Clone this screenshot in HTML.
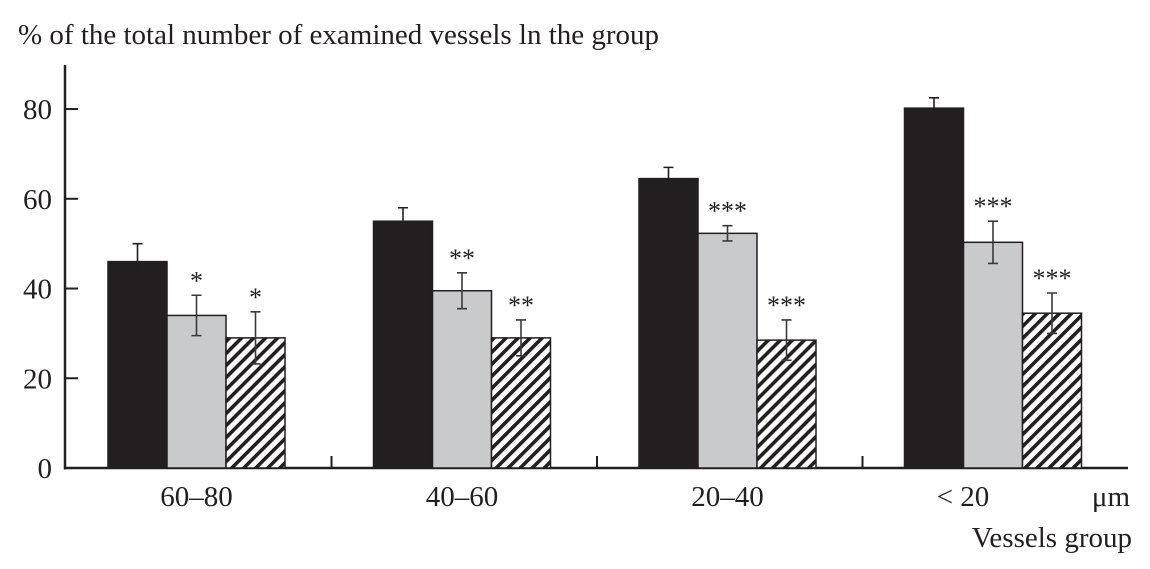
<!DOCTYPE html>
<html><head><meta charset="utf-8"><style>
html,body{margin:0;padding:0;background:#fff;}
svg text{font-family:"Liberation Serif",serif;fill:#231f20;}
</style></head><body>
<svg width="1150" height="564" viewBox="0 0 1150 564" xmlns="http://www.w3.org/2000/svg">
<defs>
<pattern id="hatch" patternUnits="userSpaceOnUse" width="8.5" height="8.5" patternTransform="rotate(45)">
<rect width="8.5" height="8.5" fill="#fff"/><rect x="0" y="0" width="3.6" height="8.5" fill="#231f20"/>
</pattern>
</defs>
<text x="18" y="44" font-size="29">% of the total number of examined vessels ln the group</text>
<g id="axes"></g>
<g id="bars"></g>
<text x="1130" y="506" font-size="29" text-anchor="end">μm</text>
<text x="1132" y="547" font-size="29" text-anchor="end">Vessels group</text>
</svg>
<script>
const categories = ["60\u201380","40\u201360","20\u201340","< 20"];
const seriesBlack = [46, 55, 64.5, 80.2];
const seriesGray = [34, 39.5, 52.3, 50.3];
const seriesHatch = [29, 29, 28.5, 34.5];
const errBlack = [4, 3, 2.5, 2.3];
const errGray = [4.5, 4, 1.7, 4.7];
const errHatch = [5.8, 4, 4.5, 4.5];
const starsGray = ["*","**","***","***"];
const starsHatch = ["*","**","***","***"];
const yTicks = [0,20,40,60,80];

const NS="http://www.w3.org/2000/svg";
const y0=468, pxPerUnit=4.487;
const yS=v=>y0-v*pxPerUnit;
const groupStart=[108,377,641,908], groupW=265.5, barW=59;
const xS=(g,s)=>108+g*groupW+s*barW;
function mk(tag,attrs,parent){const e=document.createElementNS(NS,tag);for(const k in attrs)e.setAttribute(k,attrs[k]);parent.appendChild(e);return e;}
const axes=document.getElementById('axes'), bars=document.getElementById('bars');
const ya=mk('line',{x1:65,y1:65,x2:65,y2:469.5,stroke:'#231f20','stroke-width':2.5},axes);

const xa=mk('line',{x1:64,y1:468,x2:1128,y2:468,stroke:'#231f20','stroke-width':2.5},axes);

yTicks.forEach(v=>{
  if(v>0){const t=mk('line',{x1:65,y1:yS(v),x2:78,y2:yS(v),stroke:'#231f20','stroke-width':2},axes);
  }
  const l=mk('text',{x:52,y:yS(v)+10,'font-size':29,'text-anchor':'end'},axes);l.textContent=v;
  
});
categories.forEach((c,g)=>{
  if(g>0){const t=mk('line',{x1:108+g*groupW-42,y1:468,x2:108+g*groupW-42,y2:456,stroke:'#231f20','stroke-width':2},axes);
  }
  const l=mk('text',{x:xS(g,1)+barW/2+(g==3?-30:0),y:506,'font-size':29,'text-anchor':'middle'},axes);l.textContent=c;
  
  const series=[[seriesBlack,errBlack,'#231f20',null],[seriesGray,errGray,'#c9cacc',starsGray],[seriesHatch,errHatch,'url(#hatch)',starsHatch]];
  series.forEach(([vals,errs,fill,stars],s)=>{
    const x=xS(g,s), v=vals[g], e=errs[g];
    const r=mk('rect',{x:x,y:yS(v),width:barW,height:y0-yS(v),fill:fill,stroke:'#231f20','stroke-width':1.5},bars);
    
    const cx=x+barW/2, col=s==0?'#231f20':'#3a3a3a';
    const eb=mk('path',{d:`M${cx},${yS(v+e)}V${yS(v-e)}M${cx-5},${yS(v+e)}H${cx+5}M${cx-5},${yS(v-e)}H${cx+5}`,stroke:col,'stroke-width':1.6,fill:'none'},bars);
    
    if(stars){const st=mk('text',{x:cx,y:yS(v+e)-6,'font-size':26,'text-anchor':'middle'},bars);st.textContent=stars[g];
      }
  });
});
</script>
</body></html>
